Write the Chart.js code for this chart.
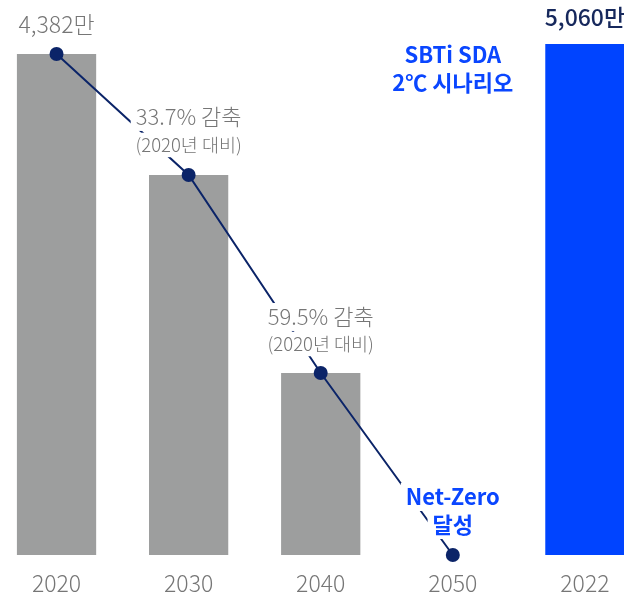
<!DOCTYPE html>
<html>
<head>
<meta charset="utf-8">
<script src="https://cdn.jsdelivr.net/npm/chart.js@4"></script>
<style>
  html, body { margin: 0; padding: 0; background: #fff; }
  #wrap { width: 624px; height: 596px; position: relative; }
</style>
</head>
<body>
<div id="wrap"><canvas id="emissions"></canvas></div>
<script>
const years = ['2020', '2030', '2040', '2050', '2022']
// bar heights as drawn (2022 bar is shown cut, so not to scale)
const barValues = [4382, 3324, 1592, null, 4470]
const barColors = ['#9d9e9e', '#9d9e9e', '#9d9e9e', '#9d9e9e', '#0044ff']
const pathValues = [4382, 3324, 1592, 0]

const FONT = "'Noto Sans CJK KR', 'Noto Sans', sans-serif"

const barData = []
barValues.forEach((v, i) => { if (v !== null) barData.push({ x: i, y: v }) })
const pathData = pathValues.map((v, i) => ({ x: i, y: v }))

// text notes anchored on a data point, dy in px
const notes = [
    { i: 0, v: 4382, dy: -30, text: '4,382만', color: '#767676', weight: '300', size: 23 },
    { i: 1, v: 3324, dy: -58, text: '33.7% 감축', color: '#767676', weight: '300', size: 22, box: true },
    { i: 1, v: 3324, dy: -30, text: '(2020년 대비)', color: '#767676', weight: '300', size: 18.5, box: true },
    { i: 2, v: 1592, dy: -56, text: '59.5% 감축', color: '#767676', weight: '300', size: 22, box: true },
    { i: 2, v: 1592, dy: -29, text: '(2020년 대비)', color: '#767676', weight: '300', size: 18.5, box: true },
    { i: 3, v: 0, dy: -58, text: 'Net-Zero', color: '#0a46ff', weight: 'bold', size: 22, box: true },
    { i: 3, v: 0, dy: -30, text: '달성', color: '#0a46ff', weight: 'bold', size: 22, box: true },
    { i: 3, v: 4470, dy: 11, text: 'SBTi SDA', color: '#0a46ff', weight: 'bold', size: 22 },
    { i: 3, v: 4470, dy: 39, text: '2℃ 시나리오', color: '#0a46ff', weight: 'bold', size: 22 },
    { i: 4, v: 4470, dy: -27, text: '5,060만', color: '#16285c', weight: '500', size: 23 }
]

const notePlugin = {
    id: 'notes',
    afterDatasetsDraw(chart) {
        const c = chart.ctx
        const xs = chart.scales.x
        const ys = chart.scales.y
        c.save()
        c.textAlign = 'center'
        c.textBaseline = 'middle'
        notes.forEach(n => {
            const x = xs.getPixelForValue(n.i)
            const y = ys.getPixelForValue(n.v) + n.dy
            c.font = n.weight + ' ' + n.size + 'px ' + FONT
            const w = c.measureText(n.text).width
            if (n.box) {
                c.fillStyle = '#fff'
                c.fillRect(x - w / 2 - 5, y - n.size / 2 - 3, w + 10, n.size + 6)
            }
            c.fillStyle = n.color
            c.fillText(n.text, x, y)
        })
        c.restore()
    }
}

const ctx = document.getElementById('emissions').getContext('2d')

new Chart(ctx, {
    type: 'bar',
    data: {
        datasets: [{
            type: 'line',
            data: pathData,
            borderColor: '#0b2468',
            borderWidth: 2,
            pointRadius: 7,
            pointBackgroundColor: '#0b2468',
            pointBorderWidth: 0,
            clip: false,
            order: 0
        }, {
            data: barData,
            backgroundColor: barColors.filter((c, i) => barValues[i] !== null),
            barPercentage: 0.6,
            categoryPercentage: 1,
            order: 1
        }]
    },
    options: {
        responsive: true,
        maintainAspectRatio: false,
        animation: false,
        layout: { padding: 0, autoPadding: false },
        scales: {
            x: {
                type: 'linear',
                offset: false,
                min: -0.428,
                max: 4.296,
                grid: { display: false, offset: false },
                border: { display: false },
                afterBuildTicks: s => { s.ticks = years.map((y, i) => ({ value: i })) },
                afterFit: s => { s.height = 41 },
                ticks: {
                    padding: 6,
                    color: '#767676',
                    font: { family: FONT, size: 23, weight: '300' },
                    callback: v => years[v]
                }
            },
            y: {
                display: false,
                min: 0,
                max: 4854
            }
        },
        plugins: {
            legend: { display: false },
            tooltip: { enabled: false }
        }
    },
    plugins: [notePlugin]
})
</script>
</body>
</html>
